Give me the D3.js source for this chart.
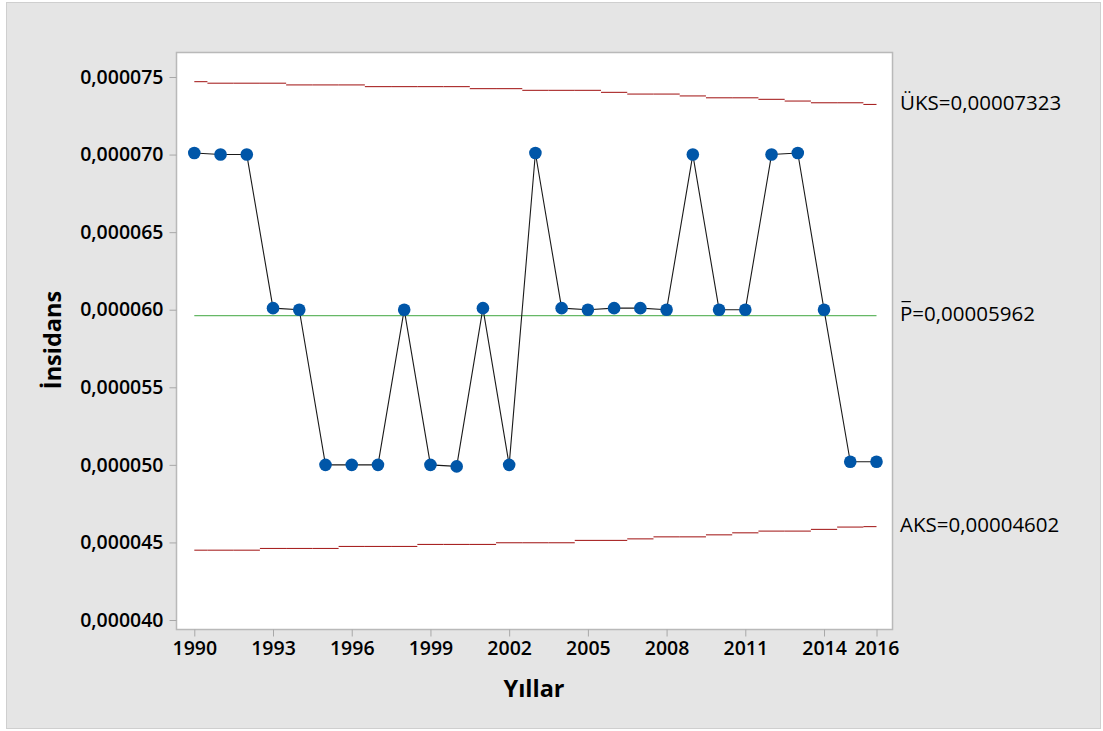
<!DOCTYPE html>
<html>
<head>
<meta charset="utf-8">
<script src="https://cdn.jsdelivr.net/npm/d3@7"></script>
<style>
  html, body { margin: 0; padding: 0; background: #ffffff; }
  svg { display: block; }
  text { font-family: "Open Sans", "Noto Sans", sans-serif; fill: #000; }
</style>
</head>
<body>
<svg id="chart" width="1103" height="731"></svg>
<script>
// Yearly incidence (P chart) with per-year control limits
const years = [1990,1991,1992,1993,1994,1995,1996,1997,1998,1999,2000,2001,2002,2003,
               2004,2005,2006,2007,2008,2009,2010,2011,2012,2013,2014,2015,2016];

const incidence = [0.0000701,0.0000700,0.0000700,0.0000601,0.0000600,0.0000500,0.0000500,
                   0.0000500,0.0000600,0.0000500,0.0000499,0.0000601,0.0000500,0.0000701,
                   0.0000601,0.0000600,0.0000601,0.0000601,0.0000600,0.0000700,0.0000600,
                   0.0000600,0.0000700,0.0000701,0.0000600,0.0000502,0.0000502];

// Upper control limit (ÜKS) per year
const ucl = [0.00007470,0.00007460,0.00007460,0.00007460,0.00007449,0.00007449,0.00007449,
             0.00007438,0.00007438,0.00007438,0.00007438,0.00007425,0.00007425,0.00007414,
             0.00007414,0.00007414,0.00007401,0.00007390,0.00007390,0.00007378,0.00007366,
             0.00007366,0.00007356,0.00007345,0.00007334,0.00007334,0.00007323];

// Lower control limit (AKS) per year
const lcl = [0.00004450,0.00004450,0.00004450,0.00004461,0.00004461,0.00004461,0.00004474,
             0.00004474,0.00004474,0.00004487,0.00004487,0.00004487,0.00004498,0.00004498,
             0.00004498,0.00004513,0.00004513,0.00004523,0.00004536,0.00004536,0.00004549,
             0.00004562,0.00004573,0.00004573,0.00004584,0.00004599,0.00004602];

const centerP = 0.00005962;

const xTickValues = [1990,1993,1996,1999,2002,2005,2008,2011,2014,2016];
const yTickValues = [0.000040,0.000045,0.000050,0.000055,0.000060,0.000065,0.000070,0.000075];

const limitLabels = [
  { key: "ÜKS", value: ucl[ucl.length - 1], text: "ÜKS=0,00007323" },
  { key: "P",   value: centerP,             text: "P=0,00005962" },
  { key: "AKS", value: lcl[lcl.length - 1], text: "AKS=0,00004602" }
];

const svg = d3.select("#chart");

// Outer panel
svg.append("rect")
  .attr("x", 6.5).attr("y", 2.5).attr("width", 1094).attr("height", 726)
  .attr("fill", "#e5e5e5").attr("stroke", "#cfcfcf").attr("stroke-width", 1);

// Data region
const plot = { left: 176.5, top: 52.5, right: 892.5, bottom: 629.5 };

const x = d3.scaleLinear().domain([1990, 2016]).range([194.3, 876.5]);
const y = d3.scaleLinear().domain([0.000040, 0.000075]).range([620, 77]);

svg.append("rect")
  .attr("x", plot.left).attr("y", plot.top)
  .attr("width", plot.right - plot.left).attr("height", plot.bottom - plot.top)
  .attr("fill", "#ffffff").attr("stroke", "#b9b9b9").attr("stroke-width", 1.5);

// Axes
const comma = d3.formatLocale({ decimal: ",", thousands: ".", grouping: [3], currency: ["", ""] });
const yFmt = comma.format(".6f");

const yAxis = svg.append("g")
  .attr("transform", `translate(${plot.left},0)`)
  .call(d3.axisLeft(y).tickValues(yTickValues).tickFormat(yFmt).tickSize(7).tickPadding(6));
yAxis.select(".domain").remove();
yAxis.selectAll(".tick line").attr("stroke", "#a8a8a8");
yAxis.selectAll(".tick text")
  .attr("font-size", 19.5).attr("font-weight", 600)
  .attr("font-family", "'Open Sans', sans-serif").attr("fill", "#000");

const xAxis = svg.append("g")
  .attr("transform", `translate(0,${plot.bottom})`)
  .call(d3.axisBottom(x).tickValues(xTickValues).tickFormat(d3.format("d")).tickSize(7).tickPadding(5));
xAxis.select(".domain").remove();
xAxis.selectAll(".tick line").attr("stroke", "#a8a8a8");
xAxis.selectAll(".tick text")
  .attr("font-size", 19.5).attr("font-weight", 600)
  .attr("font-family", "'Open Sans', sans-serif").attr("fill", "#000");

// Axis titles
svg.append("text")
  .attr("transform", `translate(61,340) rotate(-90)`)
  .attr("text-anchor", "middle")
  .attr("font-size", 23.5).attr("font-weight", 700)
  .text("İnsidans");

svg.append("text")
  .attr("x", 534).attr("y", 697)
  .attr("text-anchor", "middle")
  .attr("font-size", 23.5).attr("font-weight", 700)
  .text("Yıllar");

// Step control limits: one horizontal segment per year, centred on the year
function stepSegments(values) {
  return years.map((yr, i) => ({
    x1: x(Math.max(1990, yr - 0.5)),
    x2: x(Math.min(2016, yr + 0.5)),
    y: y(values[i])
  }));
}

const limits = svg.append("g");
[ucl, lcl].forEach(series => {
  limits.selectAll(null)
    .data(stepSegments(series))
    .enter().append("line")
    .attr("x1", d => d.x1).attr("x2", d => d.x2)
    .attr("y1", d => d.y).attr("y2", d => d.y)
    .attr("stroke", "#a82424").attr("stroke-width", 1.1);
});

// Centre line
svg.append("line")
  .attr("x1", x(1990)).attr("x2", x(2016))
  .attr("y1", y(centerP)).attr("y2", y(centerP))
  .attr("stroke", "#66b866").attr("stroke-width", 1.2);

// Incidence series
const line = d3.line().x((d, i) => x(years[i])).y(d => y(d));
svg.append("path")
  .datum(incidence)
  .attr("d", line)
  .attr("fill", "none").attr("stroke", "#1a1a1a").attr("stroke-width", 1.1);

svg.append("g").selectAll("circle")
  .data(incidence)
  .enter().append("circle")
  .attr("cx", (d, i) => x(years[i]))
  .attr("cy", d => y(d))
  .attr("r", 6.3)
  .attr("fill", "#0056a8");

// Limit labels on the right
const lab = svg.append("g");
limitLabels.forEach(l => {
  const t = lab.append("text")
    .attr("x", 900).attr("y", y(l.value) + 5.5)
    .attr("font-size", 20.5).attr("font-weight", 400)
    .text(l.text);
  if (l.key === "P") {
    // bar over the P
    const w = t.node().getSubStringLength(0, 1);
    lab.append("line")
      .attr("x1", 901.5).attr("x2", 900 + w - 1.5)
      .attr("y1", y(l.value) - 14).attr("y2", y(l.value) - 14)
      .attr("stroke", "#000").attr("stroke-width", 1.2);
  }
});
</script>
</body>
</html>
